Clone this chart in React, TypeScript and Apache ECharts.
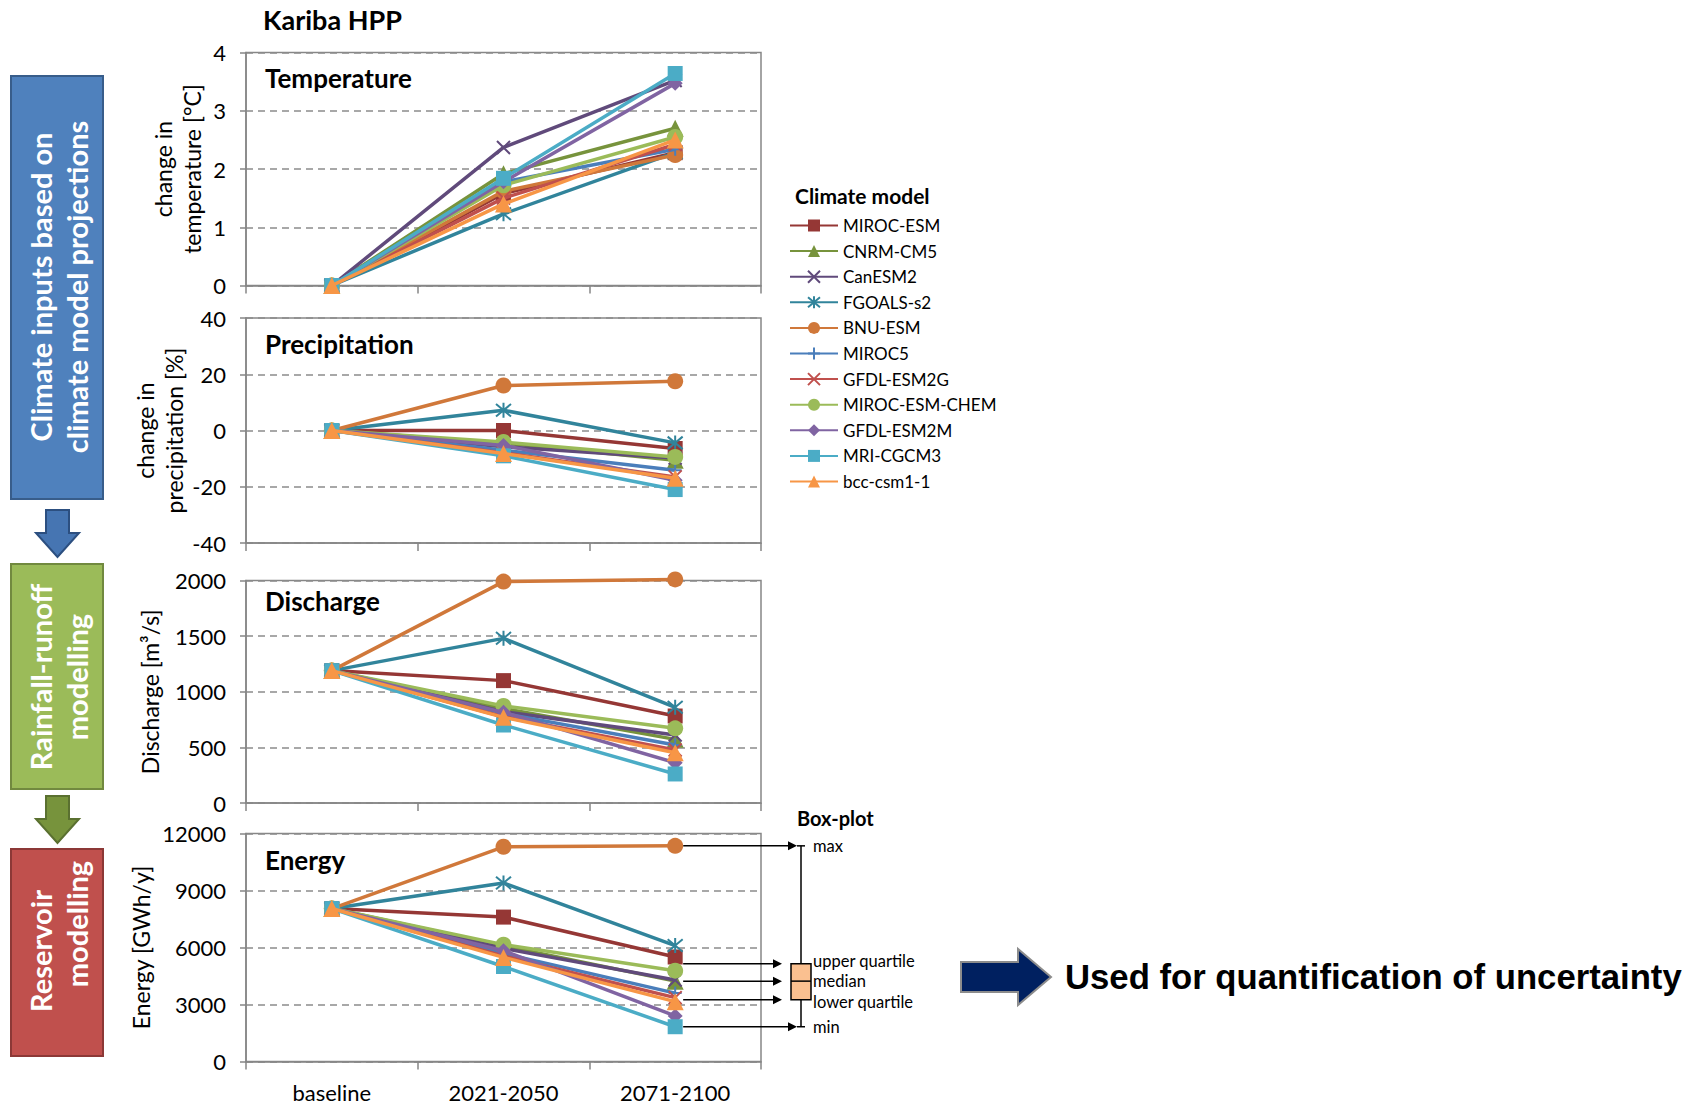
import React, { useEffect, useRef } from 'react';
import * as echarts from 'echarts';

const CATEGORIES = ['baseline', '2021-2050', '2071-2100'];
const MODELS = ['MIROC-ESM', 'CNRM-CM5', 'CanESM2', 'FGOALS-s2', 'BNU-ESM', 'MIROC5', 'GFDL-ESM2G', 'MIROC-ESM-CHEM', 'GFDL-ESM2M', 'MRI-CGCM3', 'bcc-csm1-1'];
const COLORS = ['#953735', '#77933C', '#604A7B', '#31849B', '#D0783A', '#4A7EBB', '#C0504D', '#9BBB59', '#8064A2', '#4BACC6', '#F79646'];

const SYM_X = 'path://M0,0L10,10M10,0L0,10';
const SYM_AST = 'path://M0,1L10,11M10,1L0,11M5,0L5,12';
const SYM_PLUS = 'path://M5,0L5,10M0,5L10,5';
const SYMBOLS = ['rect', 'triangle', SYM_X, SYM_AST, 'circle', SYM_PLUS, SYM_X, 'circle', 'diamond', 'rect', 'triangle'];
const SYMBOL_SIZES = [15, 17, 13, 15, 16, 13, 13, 16, 15, 15, 17];

// values per model: [baseline, 2021-2050, 2071-2100]
const TEMPERATURE = [
  [0, 1.58, 2.28],
  [0, 1.92, 2.7],
  [0, 2.37, 3.52],
  [0, 1.23, 2.28],
  [0, 1.62, 2.24],
  [0, 1.78, 2.34],
  [0, 1.5, 2.42],
  [0, 1.72, 2.55],
  [0, 1.78, 3.47],
  [0, 1.84, 3.64],
  [0, 1.4, 2.5],
];
const PRECIPITATION = [
  [0, 0, -6.4],
  [0, -4.5, -10.6],
  [0, -5.8, -9.8],
  [0, 7.2, -4.4],
  [0, 16, 17.5],
  [0, -7, -14.1],
  [0, -8, -16.5],
  [0, -4.1, -9.4],
  [0, -5.3, -17.7],
  [0, -9, -21],
  [0, -8.2, -17],
];
const DISCHARGE = [
  [1190, 1100, 782],
  [1190, 850, 572],
  [1190, 820, 611],
  [1190, 1480, 860],
  [1190, 1990, 2010],
  [1190, 806, 521],
  [1190, 775, 476],
  [1190, 872, 671],
  [1190, 815, 362],
  [1190, 701, 261],
  [1190, 770, 452],
];
const ENERGY = [
  [8050, 7600, 5500],
  [8050, 6080, 4230],
  [8050, 5950, 4290],
  [8050, 9400, 6100],
  [8050, 11300, 11350],
  [8050, 5690, 3600],
  [8050, 5550, 3360],
  [8050, 6150, 4780],
  [8050, 5830, 2400],
  [8050, 5000, 1830],
  [8050, 5480, 3150],
];

const PANEL_TITLES = ['Temperature', 'Precipitation', 'Discharge', 'Energy'];
const Y_NAMES = ['change in\ntemperature [°C]', 'change in\nprecipitation [%]', 'Discharge [m³/s]', 'Energy [GWh/y]'];
const Y_MIN = [0, -40, 0, 0];
const Y_MAX = [4, 40, 2000, 12000];
const Y_INTERVAL = [1, 20, 500, 3000];
const BOX_LABELS = ['max', 'upper quartile', 'median', 'lower quartile', 'min'];

const FONT = 'Lato, "Open Sans", sans-serif';

const PANEL_DATA = [TEMPERATURE, PRECIPITATION, DISCHARGE, ENERGY];
const GRID_TOPS = [52.5, 318, 580.5, 833.5];
const GRID_HEIGHTS = [233, 225, 222.5, 228];
const NAME_GAPS = [40, 40, 82, 91];
const TITLE_Y = [78, 344, 601, 860];
const BOX_LABEL_OFFSETS = [0, -3, 0, 2.5, 0];

function quartile(values: number[], q: number) {
  const s = [...values].sort((a, b) => a - b);
  const pos = (s.length - 1) * q;
  const lo = Math.floor(pos);
  const hi = Math.ceil(pos);
  return s[lo] + (s[hi] - s[lo]) * (pos - lo);
}

function vtext(text: string, x: number, y: number, size: number) {
  return {
    type: 'text',
    x,
    y,
    rotation: Math.PI / 2,
    style: {
      text,
      fill: '#ffffff',
      font: `bold ${size}px ${FONT}`,
      align: 'center',
      verticalAlign: 'middle',
      textAlign: 'center',
      textVerticalAlign: 'middle',
    },
  };
}

function htext(text: string, x: number, y: number, font: string, lineHeight?: number) {
  const style: any = {
    text,
    fill: '#000000',
    font,
    align: 'left',
    verticalAlign: 'middle',
    textAlign: 'left',
    textVerticalAlign: 'middle',
  };
  if (lineHeight) style.lineHeight = lineHeight;
  return { type: 'text', x, y, style };
}

export default function App() {
  const ref = useRef<HTMLDivElement>(null);

  useEffect(() => {
    if (!ref.current) return;
    const chart = echarts.init(ref.current, undefined, { renderer: 'svg' });

    const grids = PANEL_DATA.map((_, p) => ({
      left: 246,
      width: 515,
      top: GRID_TOPS[p],
      height: GRID_HEIGHTS[p],
      show: true,
      borderColor: '#868686',
      borderWidth: 1.5,
      backgroundColor: 'transparent',
    }));

    const xAxes = PANEL_DATA.map((_, p) => ({
      type: 'category',
      gridIndex: p,
      data: CATEGORIES,
      boundaryGap: true,
      axisLine: { onZero: false, lineStyle: { color: '#868686', width: 1.5 } },
      axisTick: { show: true, length: 8, interval: 0, lineStyle: { color: '#868686', width: 1.5 } },
      axisLabel: { show: p === 3, margin: 20, fontSize: 22, fontFamily: FONT, color: '#000' },
      splitLine: { show: false },
    }));

    const yAxes = PANEL_DATA.map((_, p) => ({
      type: 'value',
      gridIndex: p,
      min: Y_MIN[p],
      max: Y_MAX[p],
      interval: Y_INTERVAL[p],
      name: Y_NAMES[p],
      nameLocation: 'middle',
      nameGap: NAME_GAPS[p],
      nameTextStyle: { fontSize: 23, fontFamily: FONT, color: '#000', lineHeight: 29 },
      axisLine: { show: true, lineStyle: { color: '#868686', width: 1.5 } },
      axisTick: { show: true, length: 6, lineStyle: { color: '#868686', width: 1.5 } },
      axisLabel: { margin: 20, fontSize: 22, fontFamily: FONT, color: '#000', formatter: (v: number) => String(v) },
      splitLine: { show: true, lineStyle: { color: '#8c8c8c', type: [7, 5], width: 1.5 } },
    }));

    const series: any[] = [];
    PANEL_DATA.forEach((data, p) => {
      MODELS.forEach((name, m) => {
        const isPath = String(SYMBOLS[m]).startsWith('path://');
        series.push({
          type: 'line',
          name,
          xAxisIndex: p,
          yAxisIndex: p,
          data: data[m],
          clip: false,
          symbol: SYMBOLS[m],
          symbolSize: SYMBOL_SIZES[m],
          showAllSymbol: true,
          lineStyle: { color: COLORS[m], width: 3.5 },
          itemStyle: { color: COLORS[m], borderColor: COLORS[m], borderWidth: isPath ? 2 : 0 },
          emphasis: { disabled: true },
          z: 2 + m * 0.01,
        });
      });
    });

    chart.setOption({
      animation: false,
      textStyle: { fontFamily: FONT },
      grid: grids,
      xAxis: xAxes,
      yAxis: yAxes,
      legend: {
        orient: 'vertical',
        left: 784,
        top: 212,
        itemWidth: 48,
        itemHeight: 15,
        itemGap: 8.6,
        data: MODELS,
        textStyle: { fontSize: 17, fontFamily: FONT, color: '#000' },
        selectedMode: false,
      },
      series,
    });

    // box-plot statistics of the 2071-2100 energy values
    const last = ENERGY.map((r) => r[2]);
    const stats = [
      Math.max(...last),
      quartile(last, 0.75),
      quartile(last, 0.5),
      quartile(last, 0.25),
      Math.min(...last),
    ];
    const px = stats.map((v) => chart.convertToPixel({ gridIndex: 3 } as any, [2, v]) as number[]);
    const xPoint = px[0][0];
    const ys = px.map((p) => p[1]);

    const graphics: any[] = [];
    // left process boxes
    graphics.push({ type: 'rect', shape: { x: 11, y: 76, width: 92, height: 423 }, style: { fill: '#4F81BD', stroke: '#385D8A', lineWidth: 2 } });
    graphics.push(vtext('Climate inputs based on', 40, 287, 29));
    graphics.push(vtext('climate model projections', 76, 287, 29));
    graphics.push({
      type: 'polygon',
      shape: { points: [[46, 510], [69, 510], [69, 533], [79, 533], [57.5, 557], [36, 533], [46, 533]] },
      style: { fill: '#4675B2', stroke: '#2C4F80', lineWidth: 2 },
    });
    graphics.push({ type: 'rect', shape: { x: 11, y: 564, width: 92, height: 225 }, style: { fill: '#9BBB59', stroke: '#71893F', lineWidth: 2 } });
    graphics.push(vtext('Rainfall-runoff', 40, 677, 29));
    graphics.push(vtext('modelling', 76, 677, 29));
    graphics.push({
      type: 'polygon',
      shape: { points: [[46, 796], [69, 796], [69, 819], [79, 819], [57.5, 843], [36, 819], [46, 819]] },
      style: { fill: '#77933C', stroke: '#5A7030', lineWidth: 2 },
    });
    graphics.push({ type: 'rect', shape: { x: 11, y: 849, width: 92, height: 207 }, style: { fill: '#C0504D', stroke: '#8C3836', lineWidth: 2 } });
    graphics.push(vtext('Reservoir', 40, 951, 29));
    graphics.push(vtext('modelling', 76, 924, 29));

    // titles
    graphics.push(htext('Kariba HPP', 263, 19, `bold 27px ${FONT}`));
    PANEL_TITLES.forEach((t, p) => graphics.push(htext(t, 265, TITLE_Y[p], `bold 26px ${FONT}`)));
    graphics.push(htext('Climate model', 795, 195, `bold 21px ${FONT}`));

    // box-plot legend
    graphics.push(htext('Box-plot', 797, 818, `bold 20px ${FONT}`));
    const tips = [797, 782, 782, 782, 797];
    ys.forEach((y, i) => {
      graphics.push({ type: 'line', shape: { x1: xPoint + 8, y1: y, x2: tips[i] - 6, y2: y }, style: { stroke: '#000', lineWidth: 1.5 } });
      graphics.push({
        type: 'polygon',
        shape: { points: [[tips[i], y], [tips[i] - 9, y - 4.5], [tips[i] - 9, y + 4.5]] },
        style: { fill: '#000' },
      });
      graphics.push(htext(BOX_LABELS[i], 813, y + BOX_LABEL_OFFSETS[i], `16.5px ${FONT}`, 17));
    });
    graphics.push({ type: 'line', shape: { x1: 801, y1: ys[0], x2: 801, y2: ys[4] }, style: { stroke: '#000', lineWidth: 1.5 } });
    graphics.push({ type: 'line', shape: { x1: 797, y1: ys[0], x2: 805, y2: ys[0] }, style: { stroke: '#000', lineWidth: 1.5 } });
    graphics.push({ type: 'line', shape: { x1: 797, y1: ys[4], x2: 805, y2: ys[4] }, style: { stroke: '#000', lineWidth: 1.5 } });
    graphics.push({
      type: 'rect',
      shape: { x: 791, y: ys[1], width: 20, height: ys[3] - ys[1] },
      style: { fill: '#FAC090', stroke: '#000', lineWidth: 1.5 },
    });
    graphics.push({ type: 'line', shape: { x1: 791, y1: ys[2], x2: 811, y2: ys[2] }, style: { stroke: '#000', lineWidth: 1.5 } });

    // big arrow and message
    graphics.push({
      type: 'polygon',
      shape: { points: [[961, 962], [1018, 962], [1018, 949], [1051, 977], [1018, 1005], [1018, 992], [961, 992]] },
      style: { fill: '#002060', stroke: '#8C8C8C', lineWidth: 2 },
    });
    graphics.push(htext('Used for quantification of uncertainty', 1065, 977, 'bold 34.7px "Liberation Sans", Arial, sans-serif'));

    chart.setOption({ graphic: graphics });

    return () => chart.dispose();
  }, []);

  return <div ref={ref} style={{ position: 'absolute', left: 0, top: 0, width: 1695, height: 1106, background: '#fff' }} />;
}
